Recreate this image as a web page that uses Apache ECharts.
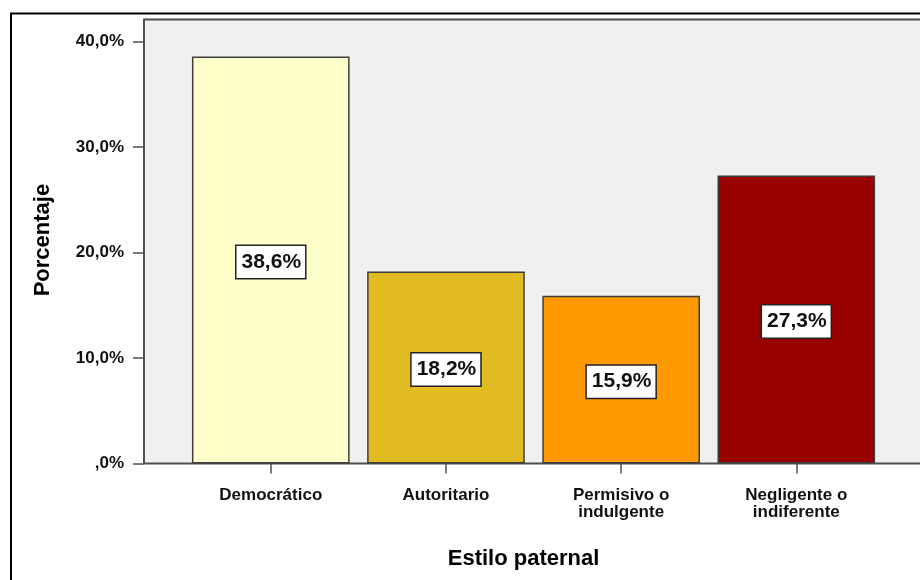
<!DOCTYPE html>
<html>
<head>
<meta charset="utf-8">
<script src="https://cdn.jsdelivr.net/npm/echarts@6/dist/echarts.min.js"></script>
<style>
html,body{margin:0;padding:0;background:#fff;}
#chart{width:920px;height:580px;}
</style>
</head>
<body>
<div id="chart"></div>
<script>
const categories = ['Democrático', 'Autoritario', 'Permisivo o\nindulgente', 'Negligente o\nindiferente'];
const percentages = [38.6, 18.2, 15.9, 27.3];
const barColors = ['#FFFFCC', '#E1BB22', '#FF9900', '#990000'];
const yTickValues = [0, 10, 20, 30, 40];
const yTickLabels = [',0%', '10,0%', '20,0%', '30,0%', '40,0%'];
const xTitle = 'Estilo paternal';
const yTitle = 'Porcentaje';

const FONT = "'Liberation Sans', Arial, sans-serif";
const chart = echarts.init(document.getElementById('chart'), null, {renderer: 'canvas'});

const fmtPct = v => v.toFixed(1).replace('.', ',') + '%';

chart.setOption({
  animation: false,
  backgroundColor: '#ffffff',
  textStyle: {fontFamily: FONT},
  graphic: [
    {type: 'rect', z: -20, silent: true,
     shape: {x: 11, y: 13.5, width: 940, height: 600},
     style: {fill: '#ffffff', stroke: '#000000', lineWidth: 2}},
    {type: 'rect', z: -10, silent: true,
     shape: {x: 144, y: 19.5, width: 800, height: 444},
     style: {fill: '#F0F0F0', stroke: '#4f4f4f', lineWidth: 2}}
  ],
  grid: {left: 183.2, right: 36.1, top: 41.7, bottom: 116.5, containLabel: false},
  xAxis: {
    type: 'category',
    data: categories,
    axisLine: {show: false},
    axisTick: {show: true, alignWithLabel: true, length: 10, lineStyle: {color: '#4f4f4f', width: 1.5}},
    axisLabel: {
      margin: 23, fontSize: 17, lineHeight: 17, fontWeight: 'bold', color: '#111',
      fontFamily: FONT, interval: 0
    },
    name: xTitle,
    nameLocation: 'middle',
    nameGap: 84,
    nameTextStyle: {fontSize: 22, fontWeight: 'bold', color: '#000', fontFamily: FONT, padding: [0, 20, 0, 0]}
  },
  yAxis: {
    type: 'value',
    min: 0, max: 40, interval: 10,
    offset: 39.2,
    splitLine: {show: false},
    axisLine: {show: false},
    axisTick: {show: true, length: 11, lineStyle: {color: '#4f4f4f', width: 1.5}},
    axisLabel: {
      margin: 20, fontSize: 17, fontWeight: 'bold', color: '#111', fontFamily: FONT,
      padding: [7, 0, 0, 0],
      formatter: v => { const i = yTickValues.indexOf(v); return i >= 0 ? yTickLabels[i] : ''; }
    },
    name: yTitle,
    nameLocation: 'middle',
    nameGap: 90,
    nameRotate: 90,
    nameTextStyle: {fontSize: 22, fontWeight: 'bold', color: '#000', fontFamily: FONT, padding: [0, 0, 0, 25]}
  },
  series: [{
    type: 'bar',
    data: percentages.map((v, i) => ({value: v, itemStyle: {color: barColors[i]}})),
    barCategoryGap: '10%',
    itemStyle: {borderColor: '#3f3f3f', borderWidth: 1.5},
    label: {
      show: true,
      position: 'inside',
      offset: [0, 2],
      formatter: p => fmtPct(p.value),
      fontSize: 21,
      fontWeight: 'bold',
      color: '#111',
      fontFamily: FONT,
      backgroundColor: '#ffffff',
      borderColor: '#222',
      borderWidth: 1.5,
      padding: [6, 4, 5, 5]
    }
  }]
});
</script>
</body>
</html>
